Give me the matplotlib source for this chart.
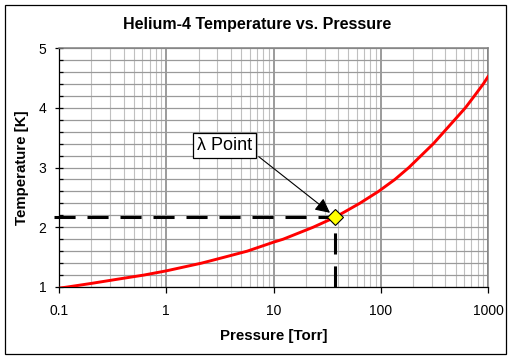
import numpy as np
import matplotlib
matplotlib.use("Agg")
from matplotlib import pyplot as plt
from matplotlib.patches import Rectangle
from matplotlib.ticker import LogLocator, MultipleLocator, FixedLocator, NullFormatter

# He-4 vapour pressure curve
pressure_torr = [0.1, 0.12, 0.2, 0.35, 0.62, 1.0, 2.14, 3.5, 5.69, 10.0, 12.3, 23.4, 37.8,
                 63.6, 95.3, 135.5, 183.0, 310.0, 490.0, 616.0, 748.0, 905.0, 1000.0]
temperature_k = [0.98, 1.0, 1.06, 1.13, 1.20, 1.27, 1.40, 1.50, 1.60, 1.75, 1.80, 2.00, 2.17,
                 2.40, 2.60, 2.80, 3.00, 3.40, 3.80, 4.00, 4.20, 4.40, 4.52]
lambda_p = 37.8
lambda_t = 2.17

plt.rcParams['font.family'] = ['Liberation Sans', 'DejaVu Sans']

W, H = 515, 360
fig = plt.figure(figsize=(W / 100, H / 100), dpi=100)
fig.patch.set_facecolor('white')

# outer chart border
fig.patches.append(Rectangle((5 / W, 1 - 354 / H), 501 / W, 349 / H, transform=fig.transFigure,
                             fill=False, edgecolor='black', linewidth=0.9))

ax = fig.add_axes([59 / W, 1 - 287 / H, (488 - 59) / W, (287 - 48) / H])
ax.set_xscale('log')
ax.set_xlim(0.1, 1000)
ax.set_ylim(1, 5)

# grid
ax.xaxis.set_major_locator(FixedLocator([0.1, 1, 10, 100, 1000]))
ax.xaxis.set_minor_locator(LogLocator(base=10, subs=np.arange(2, 10), numticks=20))
ax.xaxis.set_minor_formatter(NullFormatter())
ax.yaxis.set_major_locator(MultipleLocator(1))
ax.yaxis.set_minor_locator(MultipleLocator(0.2))
ax.set_xticklabels(['0.1', '1', '10', '100', '1000'])
ax.grid(True, which='major', axis='x', color='#808080', linewidth=1.1)
ax.grid(True, which='minor', axis='x', color='#c0c0c0', linewidth=0.8)
ax.grid(True, which='both', axis='y', color='#9a9a9a', linewidth=0.9)
ax.set_axisbelow(True)

for side in ['top', 'right']:
    ax.spines[side].set_color('#808080')
    ax.spines[side].set_linewidth(1.1)
for side in ['left', 'bottom']:
    ax.spines[side].set_color('black')
    ax.spines[side].set_linewidth(0.9)

ax.tick_params(axis='x', which='major', direction='out', length=4, width=0.9, pad=8, labelsize=10)
ax.tick_params(axis='x', which='minor', length=0)
ax.tick_params(axis='y', which='major', direction='inout', length=6, width=0.9, pad=6, labelsize=10)
ax.tick_params(axis='y', which='minor', direction='in', length=3, width=0.9)

# lambda point guide lines
x_start = 10 ** (-1 - 5 / 107.25)  # dashes begin a few pixels left of the axis
ax.plot([x_start, lambda_p], [lambda_t, lambda_t], color='black', linewidth=2.2,
        linestyle=(0, (6.9, 3.9)), zorder=3, clip_on=False)
ax.plot([lambda_p, lambda_p], [1, lambda_t], color='black', linewidth=2.2,
        linestyle=(0, (6.9, 3.9)), zorder=3)

ax.plot(pressure_torr, temperature_k, color='red', linewidth=2.1, zorder=4)
ax.plot([lambda_p], [lambda_t], marker='D', markersize=8, markerfacecolor='yellow',
        markeredgecolor='black', markeredgewidth=0.8, linestyle='none', zorder=5)

ax.text(3.5, 3.37, u'\u03bb Point', fontsize=13, ha='center', va='center', zorder=6,
        bbox=dict(boxstyle='square,pad=0.22', facecolor='white', edgecolor='black', linewidth=0.9))
ax.annotate('', xy=(lambda_p, lambda_t), xytext=(7.3, 3.18),
            arrowprops=dict(arrowstyle='-|>', mutation_scale=22, color='black', lw=0.8,
                            shrinkA=0, shrinkB=5), zorder=6)

fig.text(257 / W, 1 - 25 / H, 'Helium-4 Temperature vs. Pressure', fontsize=11.5,
         fontweight='bold', ha='center', va='center')
fig.text(273.5 / W, 1 - 336 / H, 'Pressure [Torr]', fontsize=10.8, fontweight='bold',
         ha='center', va='center')
fig.text(22 / W, 1 - 167.5 / H, 'Temperature [K]', fontsize=10.8, fontweight='bold',
         ha='center', va='center', rotation=90)

fig.savefig('out.png', dpi=100)
